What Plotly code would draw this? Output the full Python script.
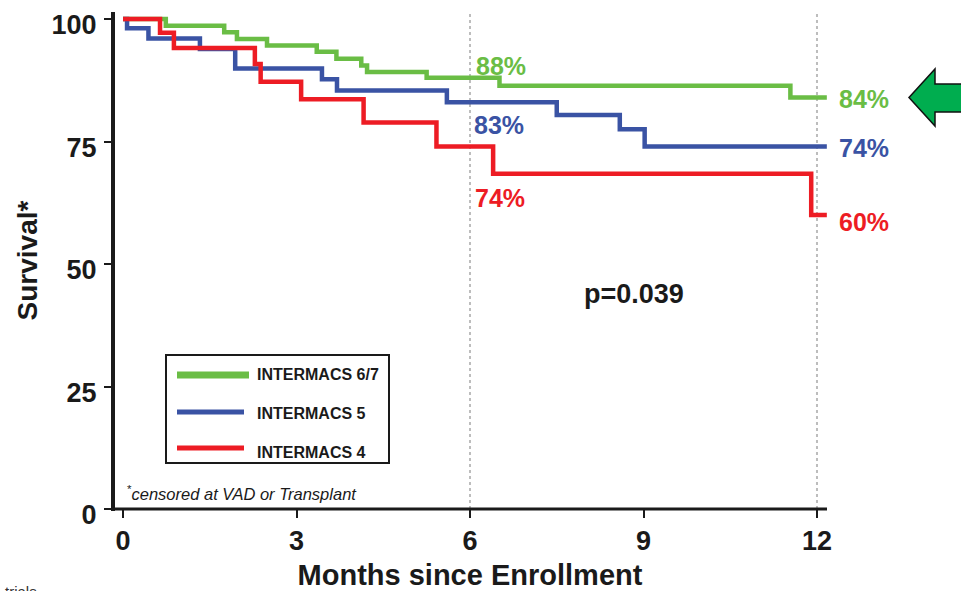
import plotly.graph_objects as go

# Kaplan-Meier survival estimates (months since enrollment, survival %)
green_t = [0, 0.74, 1.75, 1.97, 2.49, 3.35, 3.69, 4.12, 4.22, 5.25, 6.51, 11.54, 12.17]
green_s = [100, 98.6, 97.3, 95.9, 94.6, 93.3, 91.9, 90.5, 89.2, 88.0, 86.4, 84.0, 84.0]

blue_t = [0, 0.07, 0.44, 1.33, 1.94, 3.44, 3.70, 5.60, 7.50, 8.59, 9.02, 12.17]
blue_s = [100, 98.1, 96.0, 93.9, 89.9, 87.7, 85.4, 83.0, 80.4, 77.5, 74.0, 74.0]

red_t = [0, 0.64, 0.88, 2.28, 2.38, 3.08, 4.16, 5.42, 6.40, 11.90, 12.17]
red_s = [100, 97.2, 94.1, 90.8, 87.2, 83.6, 78.9, 74.0, 68.4, 60.0, 60.0]

series_names = ["INTERMACS 6/7", "INTERMACS 5", "INTERMACS 4"]
series_colors = ["#6abd45", "#3a53a4", "#ed1c24"]

x_ticks = [0, 3, 6, 9, 12]
y_ticks = [0, 25, 50, 75, 100]
landmarks = [6, 12]          # months marked with dotted guide lines
p_value = "p=0.039"

FONT = "Liberation Sans, Arial, sans-serif"
INK = "#1a1a1a"
W, H = 961, 591
ML, MR, MT, MB = 113, 134, 12, 82
PW, PH = W - ML - MR, H - MT - MB


def px(xp):
    return (xp - ML) / PW


def py(yp):
    return (H - MB - yp) / PH


def value_at(ts, ss, t):
    v = ss[0]
    for ti, si in zip(ts, ss):
        if ti <= t:
            v = si
    return v


def note(xp, yp, text, size, color=INK, bold=True, xanchor="center"):
    return dict(x=px(xp), y=py(yp), xref="paper", yref="paper", showarrow=False,
                xanchor=xanchor, yanchor="middle", text=text,
                font=dict(family=FONT, size=size, color=color,
                          weight="bold" if bold else "normal"))


fig = go.Figure()
curves = [(green_t, green_s), (blue_t, blue_s), (red_t, red_s)]
for (ts, ss), name, col in zip(curves, series_names, series_colors):
    fig.add_trace(go.Scatter(
        x=ts, y=ss, mode="lines", name=name,
        line=dict(color=col, width=4.5, shape="hv"),
        hoverinfo="skip", showlegend=False,
    ))

shapes = []
for m in landmarks:
    shapes.append(dict(type="line", xref="x", yref="paper", x0=m, x1=m, y0=0, y1=1,
                       line=dict(color="#bdbdbd", width=2, dash="dot"), layer="below"))

# axis spines along the plot edges
shapes.append(dict(type="line", xref="paper", yref="paper", x0=0, x1=0,
                   y0=py(511), y1=1, line=dict(color=INK, width=4)))
shapes.append(dict(type="line", xref="paper", yref="paper", x0=px(111), x1=1,
                   y0=0, y1=0, line=dict(color=INK, width=3)))

# legend box with line samples
shapes.append(dict(type="rect", xref="paper", yref="paper",
                   x0=px(166), x1=px(389), y0=py(463), y1=py(355),
                   line=dict(color=INK, width=2), fillcolor="white", layer="below"))
leg_rows = [375, 412, 448]
leg_widths = [7, 5, 5]
leg_ends = [249, 244, 244]
for yy, col, lw, xe in zip(leg_rows, series_colors, leg_widths, leg_ends):
    shapes.append(dict(type="line", xref="paper", yref="paper",
                       x0=px(177), x1=px(xe), y0=py(yy), y1=py(yy),
                       line=dict(color=col, width=lw)))

# arrow pointing at the 12-month INTERMACS 6/7 estimate
arrow_pts = [(909, 97.5), (935, 69), (935, 84), (963, 84), (963, 112), (935, 112), (935, 126)]
path = "M " + " L ".join(f"{px(a)},{py(b)}" for a, b in arrow_pts) + " Z"
shapes.append(dict(type="path", xref="paper", yref="paper", path=path,
                   fillcolor="#00ad4f", line=dict(color="#111111", width=1.5)))

annotations = []
# landmark survival labels at 6 and 12 months
label_pos_6 = [(501, 66), (499, 125), (500, 198)]
label_pos_12 = [(864, 99), (864, 148), (864, 222)]
for (ts, ss), col, p6, p12 in zip(curves, series_colors, label_pos_6, label_pos_12):
    annotations.append(note(*p6, f"{value_at(ts, ss, 6):.0f}%", 25, col))
    annotations.append(note(*p12, f"{value_at(ts, ss, 12):.0f}%", 25, col))

annotations.append(note(634, 294, p_value, 27))

for yy, name in zip([374, 413, 452], series_names):
    annotations.append(note(255, yy, name, 16, xanchor="left"))

annotations.append(note(125, 493, "<sup>*</sup><i>censored at VAD or Transplant</i>", 16.5,
                        bold=False, xanchor="left"))

annotations.append(note(3, 591, "trials", 15, color="#333333", bold=False, xanchor="left"))

fig.update_layout(
    width=W, height=H,
    margin=dict(l=ML, r=MR, t=MT, b=MB, autoexpand=False),
    paper_bgcolor="white", plot_bgcolor="white",
    shapes=shapes, annotations=annotations,
    font=dict(family=FONT, color=INK),
    xaxis=dict(
        range=[-0.173, 12.173], tickvals=x_ticks, ticktext=[str(v) for v in x_ticks],
        showgrid=False, zeroline=False, showline=False,
        ticks="outside", ticklen=8, tickwidth=2, tickcolor=INK, automargin=False,
        tickfont=dict(family=FONT, size=27, color=INK, weight="bold"),
        title=dict(text="Months since Enrollment", standoff=15,
                   font=dict(family=FONT, size=29, color=INK, weight="bold")),
    ),
    yaxis=dict(
        range=[0, 101.43], tickvals=y_ticks, ticktext=[str(v) for v in y_ticks],
        showgrid=False, zeroline=False, showline=False,
        ticks="outside", ticklen=8, tickwidth=2, tickcolor=INK, automargin=False,
        ticklabelshift=6, ticklabelstandoff=2,
        tickfont=dict(family=FONT, size=27, color=INK, weight="bold"),
        title=dict(text="Survival*", standoff=5,
                   font=dict(family=FONT, size=28, color=INK, weight="bold")),
    ),
)

fig.write_html("out.html")
